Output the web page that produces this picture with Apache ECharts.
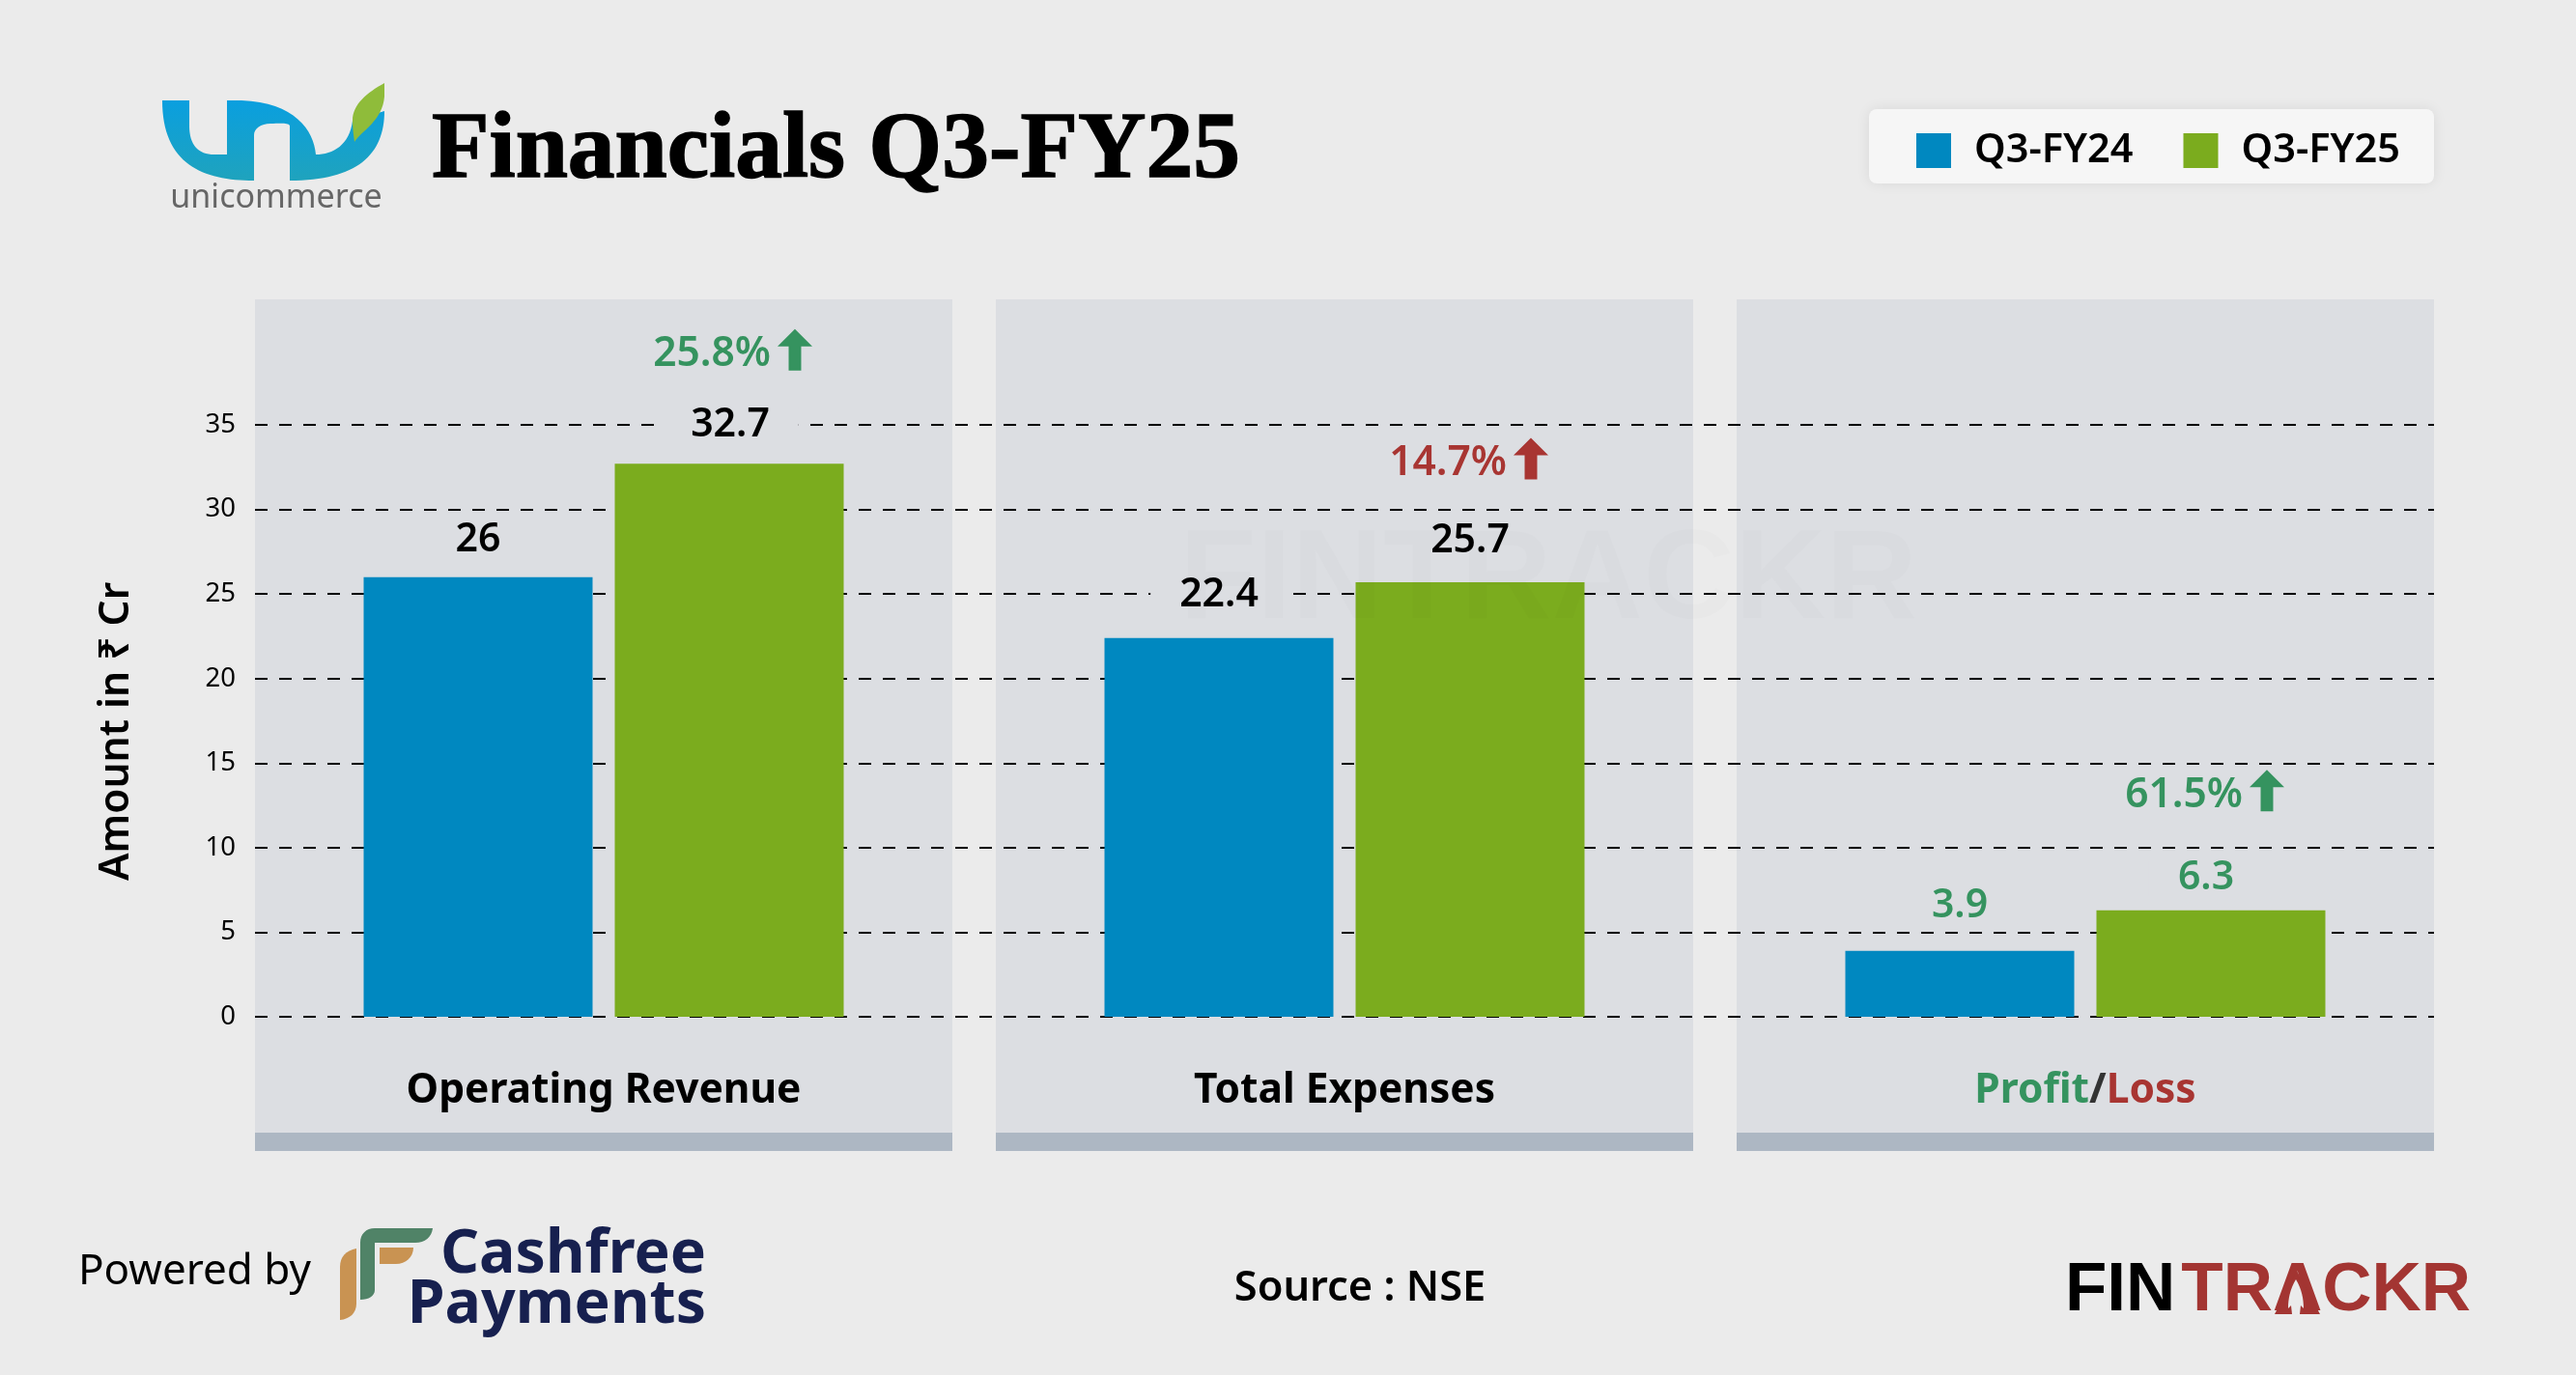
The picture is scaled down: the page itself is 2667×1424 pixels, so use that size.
<!DOCTYPE html>
<html>
<head>
<meta charset="utf-8">
<title>Financials Q3-FY25</title>
<script src="https://cdn.jsdelivr.net/npm/echarts@6/dist/echarts.min.js"></script>
<style>
  html, body { margin: 0; padding: 0; background: #ebebeb; }
  #chart { width: 2667px; height: 1424px; }
</style>
</head>
<body>
<div id="chart"></div>
<script>
// data
var categories = ["Operating Revenue", "Total Expenses", "Profit/Loss"];
var seriesNames = ["Q3-FY24", "Q3-FY25"];
var q3fy24 = [26, 22.4, 3.9];
var q3fy25 = [32.7, 25.7, 6.3];
var changes = ["25.8%", "14.7%", "61.5%"];
var yMax = 35;
var yStep = 5;

var FONT = '"Noto Sans", "Open Sans", "DejaVu Sans", sans-serif';
var BLUE = "#0088c0";
var GREEN = "#7bac1e";
var UP_GREEN = "#35935f";
var UP_RED = "#a83532";
var PANEL = "#dcdee2";
var ARROW = "path://M50,0 L100,42 L68,42 L68,100 L32,100 L32,42 L0,42 Z";

// layout, pixels
var panelLeft = [264, 1031, 1798];
var panelWidth = 722;
var plotTop = 440;
var plotBottom = 1053;
var valueColor = ["#000", "#000", UP_GREEN];
var changeColor = [UP_GREEN, UP_RED, UP_GREEN];
var changeOffset = [[68, -118], [63, -128], [58, -124]];
var labelLift = [[20, 26, 28], [22, 25, 15]];
var labelShift = [[0, 0, 0], [1, 0, -5]];

var grids = [{ left: 264, top: plotTop, width: 2256, height: plotBottom - plotTop }];
var xAxes = [{ gridIndex: 0, type: "category", data: [""], show: false }];
var yAxes = [{
  gridIndex: 0,
  type: "value",
  min: 0,
  max: yMax,
  interval: yStep,
  name: "Amount in ₹ Cr",
  nameLocation: "middle",
  nameGap: 122,
  nameTextStyle: { fontFamily: FONT, fontSize: 42.5, fontWeight: 600, color: "#000", padding: [0, 22, 0, 0] },
  axisLine: { show: false },
  axisTick: { show: false },
  axisLabel: { fontFamily: FONT, fontSize: 27.5, color: "#000", margin: 20, padding: [6, 0, 0, 0] },
  splitLine: { lineStyle: { color: "#000", width: 2, type: [13, 12] } }
}];
var series = [];

categories.forEach(function (name, i) {
  var g = i + 1;
  grids.push({ left: panelLeft[i], top: plotTop, width: panelWidth, height: plotBottom - plotTop });
  xAxes.push({
    gridIndex: g,
    type: "category",
    data: [name],
    axisLine: { show: false },
    axisTick: { show: false },
    axisLabel: {
      margin: 55,
      interval: 0,
      fontFamily: FONT,
      fontSize: 42.5,
      fontWeight: 700,
      color: "#000",
      formatter: function (v) {
        if (v === "Profit/Loss") return "{p|Profit}{s|/}{l|Loss}";
        return v;
      },
      rich: {
        p: { fontFamily: FONT, fontSize: 42.5, fontWeight: 700, color: UP_GREEN },
        s: { fontFamily: FONT, fontSize: 42.5, fontWeight: 700, color: "#333" },
        l: { fontFamily: FONT, fontSize: 42.5, fontWeight: 700, color: UP_RED }
      }
    }
  });
  yAxes.push({ gridIndex: g, type: "value", min: 0, max: yMax, interval: yStep, show: false, splitLine: { show: false } });

  function barLabel(s) {
    return {
      show: true,
      position: "top",
      distance: labelLift[s][i],
      offset: [labelShift[s][i], 0],
      fontFamily: FONT,
      fontSize: 41,
      fontWeight: 600,
      lineHeight: 36,
      color: valueColor[i],
      backgroundColor: PANEL,
      padding: [0, 30]
    };
  }

  series.push({
    name: seriesNames[0],
    type: "bar",
    xAxisIndex: g,
    yAxisIndex: g,
    barWidth: 237,
    barGap: "9.7%",
    itemStyle: { color: BLUE },
    label: barLabel(0),
    data: [q3fy24[i]]
  });
  series.push({
    name: seriesNames[1],
    type: "bar",
    xAxisIndex: g,
    yAxisIndex: g,
    barWidth: 237,
    barGap: "9.7%",
    itemStyle: { color: GREEN },
    label: barLabel(1),
    data: [q3fy25[i]],
    markPoint: {
      silent: true,
      data: [{
        coord: [0, q3fy25[i]],
        symbol: ARROW,
        symbolSize: [36, 43],
        symbolOffset: changeOffset[i],
        itemStyle: { color: changeColor[i] },
        label: {
          show: true,
          position: "left",
          distance: 7,
          offset: [0, 5],
          formatter: changes[i],
          fontFamily: FONT,
          fontSize: 42.5,
          fontWeight: 600,
          color: changeColor[i]
        }
      }]
    }
  });
});

function txt(text, x, y, size, weight, fill, align, family) {
  return {
    type: "text",
    z: 50,
    style: {
      text: text, x: x, y: y,
      fontFamily: family || FONT, fontSize: size, fontWeight: weight,
      fill: fill, textAlign: align || "left", textVerticalAlign: "bottom"
    }
  };
}
var shapeCount = 0;
function shape(pathData, fill) {
  var name = "logoPath" + shapeCount++;
  echarts.graphic.registerShape(name, echarts.graphic.extendPath(pathData, {}));
  return { type: name, z: 50, style: { fill: fill } };
}

var graphics = [];
panelLeft.forEach(function (x) {
  graphics.push({ type: "rect", z: -10, shape: { x: x, y: 310, width: panelWidth, height: 863 }, style: { fill: PANEL } });
  graphics.push({ type: "rect", z: -10, shape: { x: x, y: 1173, width: panelWidth, height: 19 }, style: { fill: "#adb7c3" } });
});
// faint watermark
graphics.push({
  type: "text", z: 100,
  style: {
    text: "FINTRACKR", x: 1603, y: 604,
    fontFamily: "Liberation Sans", fontSize: 131, fontWeight: 700,
    fill: "rgba(0,0,0,0.012)", textAlign: "center", textVerticalAlign: "middle"
  }
});
// title and unicommerce mark
var title = txt("Financials Q3-FY25", 447, 207, 97.5, 700, "#000", "left", '"Liberation Serif", serif');
title.style.stroke = "#000";
title.style.lineWidth = 1.5;
graphics.push(title);
graphics.push(shape(
  "M168,104 L196,104 L196,130 C196,150 205,160 222,160 L235,160 L235,104 L250,104 C305,106 325,135 327,160 C345,160 362,150 365,125 L398,115 C398,160 370,187 300,187 L300,130 C298,127 290,128 280,128 C270,128 263,133 263,140 L263,187 C210,187 168,170 168,104 Z",
  new echarts.graphic.LinearGradient(0, 0, 0, 1, [{ offset: 0, color: "#0a9fdf" }, { offset: 1, color: "#1fa3bd" }])
));
graphics.push(shape("M398,86 C380,96 365,108 365,125 C365,133 366,140 367,147 C375,135 396,125 398,100 Z", "#8fbc3a"));
graphics.push(txt("unicommerce", 286, 222, 34, 400, "#666", "center"));
// footer logos
graphics.push(txt("Powered by", 81, 1339, 44, 400, "#000"));
graphics.push(shape("M373,1287 C373,1278 379,1272 388,1272 L448,1272 C447,1281 440,1287 430,1287 L388,1287 L388,1336 C388,1342 382,1346 373,1346 Z", "#508367"));
graphics.push(shape("M393,1292 L428,1292 C428,1302 420,1309 410,1309 L393,1309 Z", "#c99352"));
graphics.push(shape("M369,1293 C358,1295 352,1302 352,1312 L352,1367 C362,1366 369,1360 369,1350 Z", "#c99352"));
graphics.push(txt("Cashfree", 731, 1332, 62.5, 700, "#17204f", "right"));
graphics.push(txt("Payments", 731, 1384, 62.5, 700, "#17204f", "right"));
graphics.push(txt("Source : NSE", 1408, 1356, 43.4, 600, "#000", "center"));
graphics.push(txt("FIN", 2138, 1373, 71, 700, "#000", "left", '"Liberation Sans", sans-serif'));
graphics.push(txt("TRACKR", 2558, 1373, 71, 700, "#a33532", "right", '"Liberation Sans", sans-serif'));
// solid A with a rocket cut into it
graphics.push(shape("M2378,1316 L2402,1361 L2355,1361 Z", "#a33532"));
graphics.push(shape("M2377,1325 C2371,1335 2369,1345 2369,1355 L2372,1352 L2373,1361 L2381,1361 L2382,1352 L2385,1355 C2385,1345 2383,1335 2377,1325 Z", "#ebebeb"));

var chart = echarts.init(document.getElementById("chart"), null, { width: 2667, height: 1424 });
chart.setOption({
  animation: false,
  backgroundColor: "#ebebeb",
  legend: {
    data: seriesNames,
    left: 1935,
    top: 113,
    icon: "rect",
    itemWidth: 36,
    itemHeight: 36,
    itemGap: 52,
    padding: [22, 35, 13, 49],
    backgroundColor: "#f6f6f6",
    borderRadius: 8,
    shadowColor: "rgba(0,0,0,0.08)",
    shadowBlur: 14,
    selectedMode: false,
    textStyle: { fontFamily: FONT, fontSize: 41.5, fontWeight: 600, lineHeight: 36, color: "#000", padding: [4, 0, 0, 19] }
  },
  tooltip: { show: false },
  grid: grids,
  xAxis: xAxes,
  yAxis: yAxes,
  series: series,
  graphic: graphics
});
</script>
</body>
</html>
